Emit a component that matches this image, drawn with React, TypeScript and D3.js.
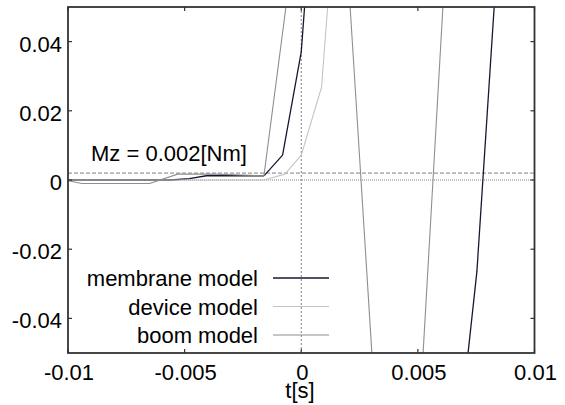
import React from "react";
import * as d3 from "d3";

// ---- data (t [s], Mz [Nm]) ----
const membraneT = [-0.01, -0.0056, -0.0048, -0.004, -0.0016, -0.0008, 0, 0.0008, 0.003, 0.005, 0.0067, 0.00753, 0.0083, 0.01];
const membraneV = [0, 0, 0.0004, 0.0013, 0.0012, 0.0072, 0.037, 0.11, 0.2, -0.15, -0.078, -0.0265, 0.053, 0.15];

const deviceT = [-0.01, -0.0016, -0.0007, 0, 0.00087, 0.0016, 0.004, 0.007, 0.01];
const deviceV = [0, 0, 0.0017, 0.0072, 0.0268, 0.0916, 0.2, 0.15, 0.1];

const boomT = [-0.01, -0.0094, -0.0065, -0.0053, -0.0037, -0.0016, 0, 0.0016, 0.0024, 0.0032, 0.0048, 0.0056, 0.0064, 0.008, 0.01];
const boomV = [-0.0002, -0.001, -0.001, 0.0017, 0.0017, 0.0012, 0.084, 0.103, 0.0174, -0.0685, -0.1, -0.0057, 0.0885, 0.12, 0.08];

const seriesNames = ["membrane model", "device model", "boom model"];
const seriesColors = ["#1e1432", "#c4c4c4", "#8e8e8e"];

const xTicks = [-0.01, -0.005, 0, 0.005, 0.01];
const xTickLabels = ["-0.01", "-0.005", "0", "0.005", "0.01"];
const yTicks = [0.04, 0.02, 0, -0.02, -0.04];
const yTickLabels = ["0.04", "0.02", "0", "-0.02", "-0.04"];

const threshold = 0.002;
const thresholdLabel = "Mz = 0.002[Nm]";
const xLabel = "t[s]";

const W = 565;
const H = 405;
const L = 68, R = 534.5, T = 7, B = 353;

export default function App() {
  const x = d3.scaleLinear().domain([-0.01, 0.01]).range([L, R]);
  const y = d3.scaleLinear().domain([-0.05, 0.05]).range([B, T]);
  const line = d3.line<[number, number]>().x(d => x(d[0])).y(d => y(d[1]));

  const series = [
    { t: membraneT, v: membraneV },
    { t: deviceT, v: deviceV },
    { t: boomT, v: boomV },
  ];

  const inRange = (v: number) => v >= -0.05 && v <= 0.05;
  // gnuplot-style clipping: draw a segment only if one end is in range
  const segPaths = series.map(s => {
    let d = "";
    for (let i = 0; i < s.t.length - 1; i++) {
      if (inRange(s.v[i]) || inRange(s.v[i + 1])) {
        d += line([[s.t[i], s.v[i]], [s.t[i + 1], s.v[i + 1]]]) || "";
      }
    }
    return d;
  });

  const font = "'Liberation Sans', Arial, Helvetica, sans-serif";
  const fs = 22;
  const tickLen = 4;

  return (
    <svg width={W} height={H} style={{ position: "absolute", left: 0, top: 0, background: "#fff" }} fontFamily={font}>
      <defs>
        <clipPath id="plot">
          <rect x={L} y={T} width={R - L} height={B - T} />
        </clipPath>
      </defs>
      <rect x={0} y={0} width={W} height={H} fill="#fff" />

      {/* reference lines */}
      <line x1={L} x2={R} y1={y(threshold)} y2={y(threshold)} stroke="#808080" strokeWidth={1} strokeDasharray="4,2" />
      <line x1={L} x2={R} y1={y(0)} y2={y(0)} stroke="#808080" strokeWidth={1} strokeDasharray="1,1" />
      <line x1={x(0)} x2={x(0)} y1={T} y2={B} stroke="#808080" strokeWidth={1} strokeDasharray="2,2" />

      {/* series */}
      <g clipPath="url(#plot)">
        {segPaths.map((d, i) => (
          <path key={i} d={d} fill="none" stroke={seriesColors[i]} strokeWidth={i === 0 ? 1.3 : 1.1} />
        ))}
      </g>

      {/* threshold label */}
      <text x={91} y={161} fontSize={fs} fill="#000">{thresholdLabel}</text>

      {/* border */}
      <rect x={L} y={T} width={R - L} height={B - T} fill="none" stroke="#333" strokeWidth={1.8} />

      {/* ticks */}
      {xTicks.map((t, i) => (
        <g key={"x" + i}>
          <line x1={x(t)} x2={x(t)} y1={B} y2={B - tickLen} stroke="#333" strokeWidth={1.2} />
          <line x1={x(t)} x2={x(t)} y1={T} y2={T + tickLen} stroke="#333" strokeWidth={1.2} />
          <text x={x(t) + 1} y={380} fontSize={fs} textAnchor="middle" fill="#000">{xTickLabels[i]}</text>
        </g>
      ))}
      {yTicks.map((t, i) => (
        <g key={"y" + i}>
          <line x1={L} x2={L + tickLen} y1={y(t)} y2={y(t)} stroke="#333" strokeWidth={1.2} />
          <line x1={R} x2={R - tickLen} y1={y(t)} y2={y(t)} stroke="#333" strokeWidth={1.2} />
          <text x={62} y={y(t) + 10} fontSize={fs} textAnchor="end" fill="#000">{yTickLabels[i]}</text>
        </g>
      ))}

      {/* x label */}
      <text x={300} y={398} fontSize={fs} textAnchor="middle" fill="#000">{xLabel}</text>

      {/* legend */}
      {seriesNames.map((n, i) => {
        const ly = 278 + i * 28.5;
        return (
          <g key={"l" + i}>
            <text x={258} y={ly + 8} fontSize={fs} textAnchor="end" fill="#000">{n}</text>
            <line x1={273} x2={329} y1={ly} y2={ly} stroke={seriesColors[i]} strokeWidth={i === 0 ? 1.3 : 1.1} />
          </g>
        );
      })}
    </svg>
  );
}
